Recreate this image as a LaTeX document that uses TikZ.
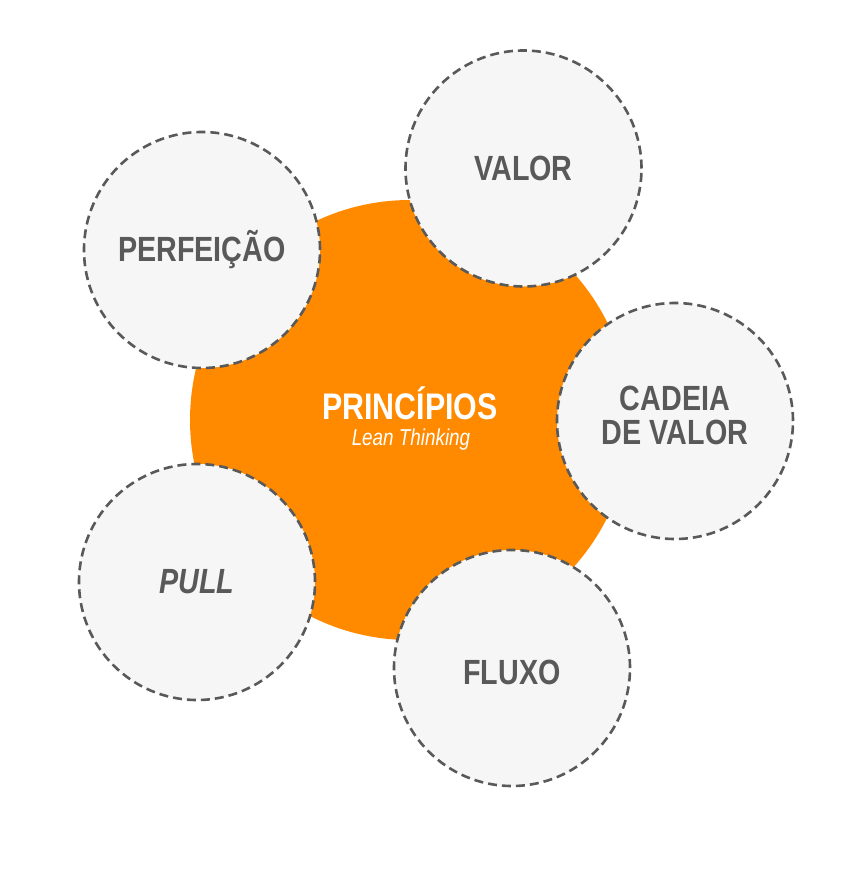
\documentclass[tikz,border=0pt]{standalone}
\usepackage{fontspec}
\setmainfont{Liberation Sans}[FakeStretch=0.82]
\begin{document}
\definecolor{leanorange}{HTML}{FF8A00}
\definecolor{satfill}{HTML}{F6F6F6}
\definecolor{satgray}{HTML}{595959}
\begin{tikzpicture}[x=1pt,y=-1pt,
  core/.style={circle,fill=leanorange,minimum size=440pt,inner sep=0pt,text=white,align=center},
  sat/.style={circle,fill=satfill,draw=satgray,line width=2.6pt,dash pattern=on 9pt off 5pt,
    minimum size=236pt,inner sep=0pt,text=satgray,align=center,font=\fontsize{35}{36}\selectfont\bfseries},
  sattext/.style={text=satgray,align=center,font=\fontsize{35}{35}\selectfont\bfseries}]
\useasboundingbox (0,0) rectangle (845,883);
\node[core] (core) at (410,420) {};
\node[text=white,font=\fontsize{37}{38}\selectfont\bfseries] (t1) at (410,403) {PRINCÍPIOS};
\node[text=white,font=\fontsize{23}{24}\selectfont\itshape] (t2) at (411,440) {Lean Thinking};
\node[sat] (valor) at (523.5,168.5) {VALOR};
\node[sat] (perf) at (202,250) {PERFEIÇÃO};
\node[sat] (cadeia) at (675,421) {};
\node[sattext] (cadeiat) at (675,415) {CADEIA\\[-1pt]DE VALOR};
\node[sat,font=\fontsize{35}{36}\selectfont\bfseries\itshape] (pull) at (197,582) {PULL};
\node[sat] (fluxo) at (512,668) {};
\node[sattext] (fluxot) at (512,672) {FLUXO};
\end{tikzpicture}
\end{document}
